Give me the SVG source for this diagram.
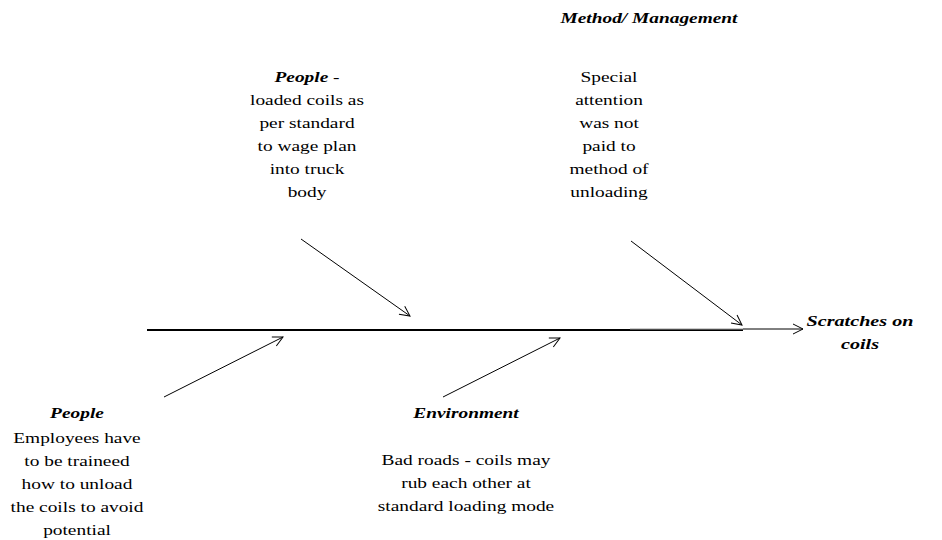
<svg xmlns="http://www.w3.org/2000/svg" width="942" height="540" viewBox="0 0 942 540">
<defs>
<style>
text{font-family:"Liberation Serif","Times New Roman",serif;font-size:15.5px;fill:#000;text-anchor:middle}
.b{font-weight:bold;font-style:italic}
.c{stroke:#000;stroke-width:1;fill:none}
</style>
<marker id="ah" markerUnits="userSpaceOnUse" markerWidth="14" markerHeight="14" refX="11" refY="6" orient="auto">
<path d="M1,1 L11,6 L1,11" fill="none" stroke="#000" stroke-width="1"/>
</marker>
</defs>
<rect width="942" height="540" fill="#fff"/>
<g id="connectors">
<line x1="147" y1="330" x2="743" y2="330" stroke="#000" stroke-width="2"/>
<line x1="630" y1="329" x2="743" y2="329" stroke="#999" stroke-width="1"/>
<line x1="743" y1="329" x2="803" y2="329" class="c" marker-end="url(#ah)"/>
<line x1="301" y1="239" x2="410" y2="316" class="c" marker-end="url(#ah)"/>
<line x1="631" y1="241" x2="742" y2="325" class="c" marker-end="url(#ah)"/>
<line x1="164" y1="397" x2="283" y2="337" class="c" marker-end="url(#ah)"/>
<line x1="443" y1="397" x2="560" y2="338" class="c" marker-end="url(#ah)"/>
</g>
<g id="people-top" transform="translate(307,0) scale(1.25,1)">
<text x="0" y="82"><tspan class="b">People</tspan>  -</text>
<text x="0" y="105">loaded coils as</text>
<text x="0" y="128">per standard</text>
<text x="0" y="151">to wage plan</text>
<text x="0" y="174">into truck</text>
<text x="0" y="197">body</text>
</g>
<g id="method-title" transform="translate(649,0) scale(1.25,1)">
<text x="0" y="23" class="b">Method/ Management</text>
</g>
<g id="method" transform="translate(609,0) scale(1.25,1)">
<text x="0" y="82">Special</text>
<text x="0" y="105">attention</text>
<text x="0" y="128">was not</text>
<text x="0" y="151">paid to</text>
<text x="0" y="174">method of</text>
<text x="0" y="197">unloading</text>
</g>
<g id="effect" transform="translate(860,0) scale(1.3,1)">
<text x="0" y="326" class="b">Scratches on</text>
<text x="0" y="349" class="b">coils</text>
</g>
<g id="people-bottom" transform="translate(77,0) scale(1.25,1)">
<text x="0" y="418" class="b">People</text>
<text x="0" y="443">Employees have</text>
<text x="0" y="466">to be traineed</text>
<text x="0" y="489">how to unload</text>
<text x="0" y="512">the coils to avoid</text>
<text x="0" y="535">potential</text>
</g>
<g id="environment" transform="translate(466,0) scale(1.25,1)">
<text x="0" y="418" class="b">Environment</text>
<text x="0" y="465">Bad roads - coils may</text>
<text x="0" y="488">rub each other at</text>
<text x="0" y="511">standard loading mode</text>
</g>
</svg>
